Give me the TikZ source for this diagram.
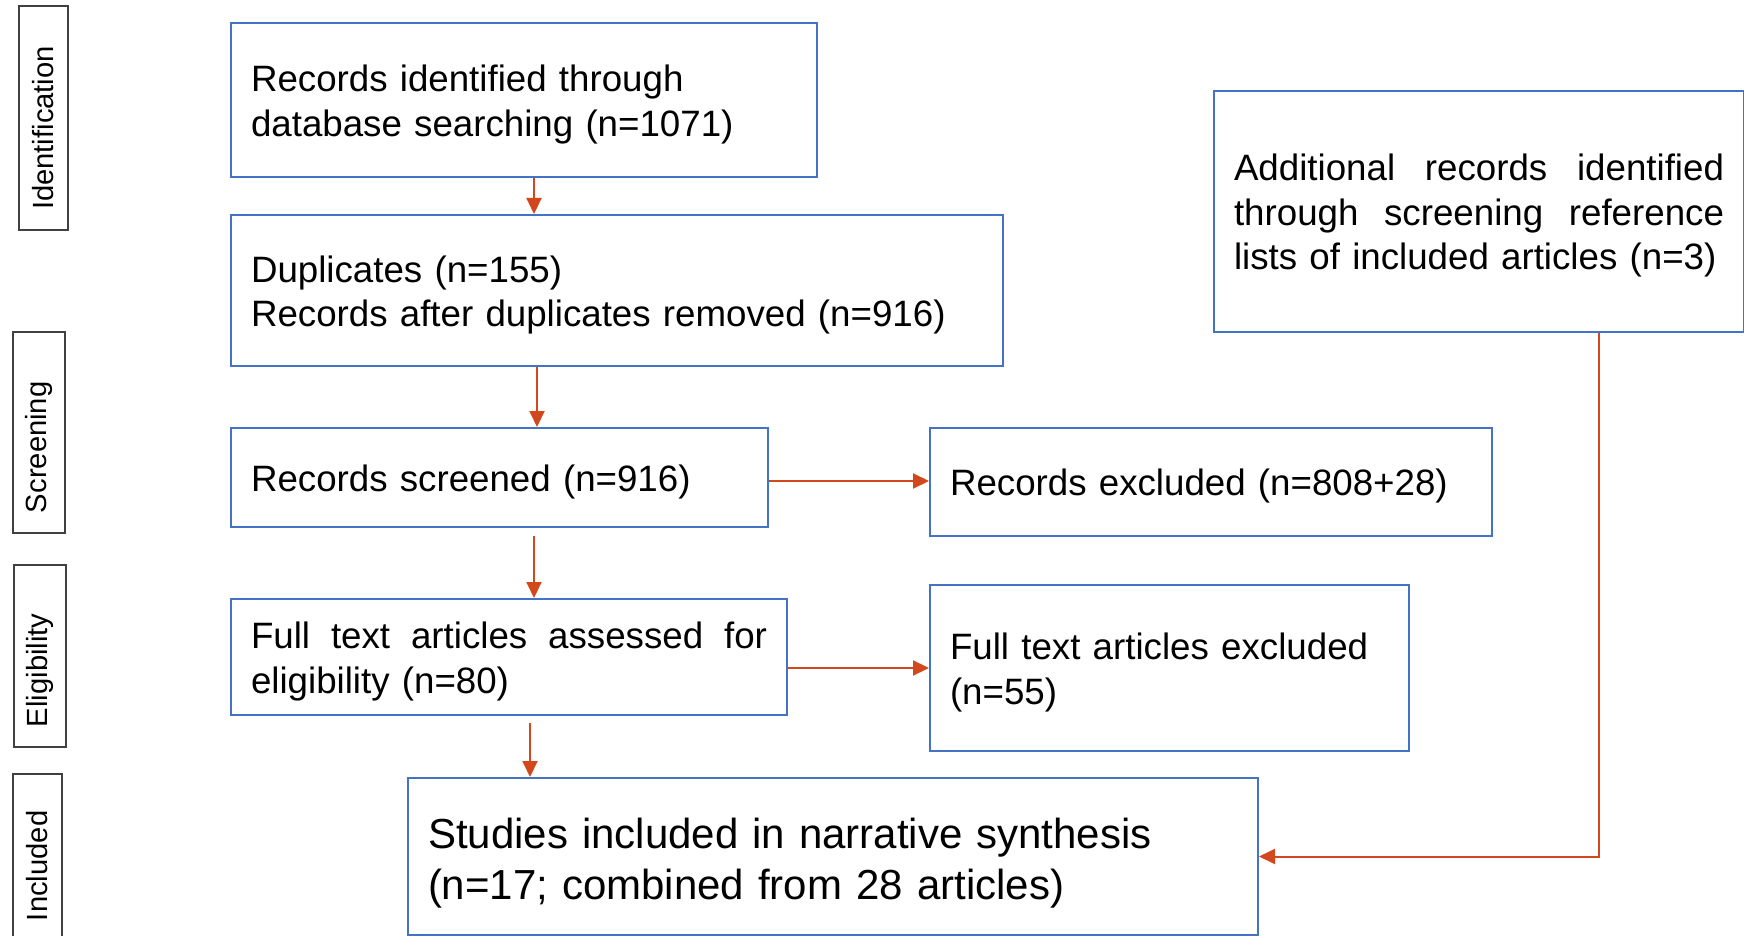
\documentclass[tikz,border=0pt]{standalone}
\usepackage{fontspec}
\setmainfont{Liberation Sans}
\usetikzlibrary{arrows.meta}
\definecolor{boxblue}{RGB}{68,114,196}
\definecolor{arrred}{RGB}{210,72,28}
\newcommand{\boxdrop}[1]{\endgraf\vskip#1\nointerlineskip\leavevmode}

\begin{document}
\begin{tikzpicture}[x=0.5pt, y=-0.5pt,
		box/.style={draw=boxblue, line width=1pt, anchor=north west, align=left, inner xsep=10pt, inner ysep=0pt, font=\fontsize{18.35pt}{22.3pt}\selectfont, execute at begin node={\boxdrop{4.4pt}}},
		stage/.style={draw=black!75, line width=0.6pt, rotate=90, align=left, inner xsep=10pt, inner ysep=0pt, font=\fontsize{14.6pt}{17pt}\selectfont},
		arr/.style={draw=arrred, line width=1pt, -{Triangle[length=8pt, width=7.5pt]}}]
	\useasboundingbox (0,0) rectangle (1744,936);
	
	% stages on the left
	\node[stage, minimum width=112pt, text width=92pt, minimum height=24.5pt] (ident) at (43.5,118) {Identification};
	\node[stage, minimum width=100.5pt, text width=80.5pt, minimum height=26pt] (screen) at (39,432.5) {Screening};
	\node[stage, minimum width=91pt, text width=71pt, minimum height=26pt] (elig) at (40,656) {Eligibility};
	\node[stage, minimum width=83.5pt, text width=63.5pt, minimum height=24.5pt] (incl) at (37.5,857.5) {Included};
	
	% boxes
	\node[box, text width=273pt, minimum height=77pt] (rec) at (230,22) {Records identified through\\database searching (n=1071)};
	\node[box, text width=245pt, minimum height=120.5pt] (add) at (1213,90) {\makebox[245pt]{Additional\hfill records\hfill identified}\\\makebox[245pt]{through\hfill screening\hfill reference}\\lists of included articles (n=3)};
	\node[box, text width=366pt, minimum height=75.5pt] (dup) at (230,214) {Duplicates (n=155)\\Records after duplicates removed (n=916)};
	\node[box, text width=248.5pt, minimum height=49.5pt] (scr) at (230,427) {Records screened (n=916)};
	\node[box, text width=261pt, minimum height=54pt] (exc) at (929,427) {Records excluded (n=808+28)};
	\node[box, text width=258pt, minimum height=58pt] (ft) at (230,598) {\makebox[258pt]{Full\hfill text\hfill articles\hfill assessed\hfill for}\\eligibility (n=80)};
	\node[box, text width=219.5pt, minimum height=83pt] (ftx) at (929,584) {Full text articles excluded\\(n=55)};
	\node[box, text width=405pt, minimum height=78.5pt, font=\fontsize{21pt}{25.5pt}\selectfont, execute at begin node={\boxdrop{2.3pt}}] (inc) at (407,777) {Studies included in narrative synthesis\\(n=17; combined from 28 articles)};
	
	% arrows
	\coordinate (a1) at ([xshift=152pt]rec.south west);
	\coordinate (a2) at ([xshift=153.5pt]dup.south west);
	\coordinate (a3) at ([xshift=152pt]scr.south west);
	\coordinate (a4) at ([xshift=150pt]ft.south west);
	\coordinate (a5) at ([xshift=193pt]add.south west);
	\coordinate (a6) at ([yshift=-1.75pt]scr.east);
	\draw[arr] (a1) -- (a1 |- dup.north);
	\draw[arr] (a2) -- (a2 |- scr.north);
	\draw[arr, shorten <=4pt] (a3) -- (a3 |- ft.north);
	\draw[arr, shorten <=3.5pt] (a4) -- (a4 |- inc.north);
	\draw[arr] (a6) -- (a6 -| exc.west);
	\draw[arr] (ft.east |- ftx.west) -- (ftx.west);
	\draw[arr] (a5) |- (inc.east);
\end{tikzpicture}
\end{document}
